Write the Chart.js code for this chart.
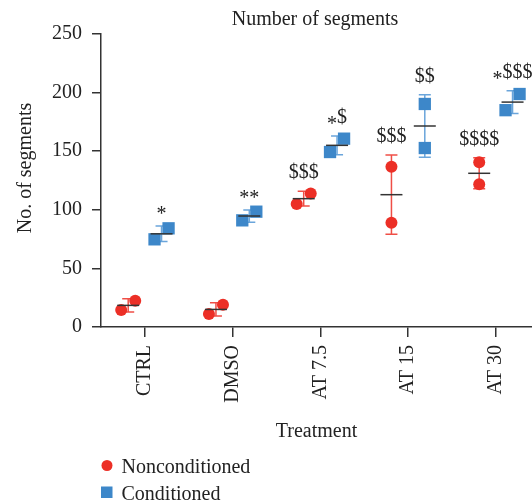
<!DOCTYPE html>
<html>
<head>
<meta charset="utf-8">
<script src="https://cdn.jsdelivr.net/npm/chart.js@4.4.0/dist/chart.umd.min.js"></script>
<style>
  html, body { margin: 0; padding: 0; background: #fff; }
  #wrap { width: 532px; height: 504px; }
</style>
</head>
<body>
<div id="wrap"><canvas id="myChart"></canvas></div>
<script>
const categories = ['CTRL', 'DMSO', 'AT 7.5', 'AT 15', 'AT 30']
const yTicks = [0, 50, 100, 150, 200, 250]

// two replicates per group
const nonA = [14.5, 11, 105, 89, 121.8]
const nonB = [22.4, 19, 114, 136.8, 140.5]
const condA = [74.8, 91, 149.3, 152.7, 185]
const condB = [84.2, 98.4, 160.7, 190.3, 198.8]

// significance marks
const nonStars = ['', '', '', '', '']
const nonDollars = ['', '', '$$$', '$$$', '$$$$']
const condStars = ['*', '**', '*', '', '*']
const condDollars = ['', '', '$', '$$', '$$$']

const RED = '#ec2f26'
const BLUE = '#3d87c9'
const INK = '#222'
const FONT = "'Liberation Serif', 'Times New Roman', serif"

// horizontal layout of the dots inside a group (in category units)
const groupShift = 0.19
const jitter = 0.08
const nonSpread = [1, 1, 1, 0, 0]
const condSpread = [1, 1, 1, 0, 1]

function points(a, b, shift, spread) {
  const out = []
  categories.forEach((c, i) => {
    out.push({x: i + shift - jitter * spread[i], y: Math.min(a[i], b[i])})
    out.push({x: i + shift + jitter * spread[i], y: Math.max(a[i], b[i])})
  })
  return out
}

function stats(a, b) {
  return {
    mean: a.map((v, i) => (v + b[i]) / 2),
    sd: a.map((v, i) => Math.abs(v - b[i]) / Math.SQRT2)
  }
}

const groups = [
  Object.assign({shift: -groupShift, bar: 'rgba(236,47,38,0.85)', stars: nonStars, dollars: nonDollars}, stats(nonA, nonB)),
  Object.assign({shift: groupShift, bar: 'rgba(90,155,215,0.9)', stars: condStars, dollars: condDollars}, stats(condA, condB))
]

const extras = {
  id: 'extras',
  beforeDatasetsDraw(chart) {
    const {ctx, scales: {x, y}} = chart
    ctx.save()
    ctx.lineWidth = 1.5
    groups.forEach(g => {
      ctx.strokeStyle = g.bar
      categories.forEach((c, i) => {
        const px = x.getPixelForValue(i + g.shift)
        const top = y.getPixelForValue(g.mean[i] + g.sd[i])
        const bot = y.getPixelForValue(g.mean[i] - g.sd[i])
        ctx.beginPath()
        ctx.moveTo(px, top); ctx.lineTo(px, bot)
        ctx.moveTo(px - 6, top); ctx.lineTo(px + 6, top)
        ctx.moveTo(px - 6, bot); ctx.lineTo(px + 6, bot)
        ctx.stroke()
      })
    })
    ctx.restore()
  },
  afterDatasetsDraw(chart) {
    const {ctx, scales: {x, y}} = chart
    ctx.save()
    ctx.strokeStyle = '#333'
    ctx.lineWidth = 1.5
    ctx.font = '20px ' + FONT
    ctx.fillStyle = INK
    ctx.textAlign = 'left'
    ctx.textBaseline = 'alphabetic'
    groups.forEach(g => {
      categories.forEach((c, i) => {
        const px = x.getPixelForValue(i + g.shift)
        const pm = y.getPixelForValue(g.mean[i])
        ctx.beginPath()
        ctx.moveTo(px - 11, pm); ctx.lineTo(px + 11, pm)
        ctx.stroke()

        const s = g.stars[i], d = g.dollars[i]
        if (!s && !d) return
        const top = y.getPixelForValue(g.mean[i] + g.sd[i])
        const ws = ctx.measureText(s).width
        const wd = ctx.measureText(d).width
        const start = px - (ws + wd) / 2
        if (s) ctx.fillText(s, start, top - 6)
        if (d) ctx.fillText(d, start + ws, top - 13)
      })
    })
    ctx.restore()
  },
  afterDraw(chart) {
    const {ctx} = chart
    ctx.save()
    ctx.font = '20px ' + FONT
    ctx.fillStyle = INK
    ctx.textBaseline = 'alphabetic'
    ctx.textAlign = 'center'
    ctx.fillText('Number of segments', 315, 25)

    ctx.save()
    ctx.translate(30.5, 168)
    ctx.rotate(-Math.PI / 2)
    ctx.fillText('No. of segments', 0, 0)
    ctx.restore()

    // legend
    ctx.textAlign = 'left'
    ctx.fillStyle = RED
    ctx.beginPath()
    ctx.arc(107, 465.5, 5.5, 0, Math.PI * 2)
    ctx.fill()
    ctx.fillStyle = BLUE
    ctx.fillRect(101, 486.5, 11.5, 11.5)
    ctx.fillStyle = INK
    ctx.fillText('Nonconditioned', 121.5, 473.3)
    ctx.fillText('Conditioned', 121.5, 500)
    ctx.restore()
  }
}

Chart.defaults.font.family = FONT
Chart.defaults.font.size = 20
Chart.defaults.color = INK

const myChart = new Chart(document.getElementById('myChart'), {
  type: 'scatter',
  data: {
    datasets: [{
      label: 'Nonconditioned',
      data: points(nonA, nonB, -groupShift, nonSpread),
      pointStyle: 'circle',
      pointRadius: 6,
      pointHoverRadius: 6,
      backgroundColor: RED,
      borderWidth: 0,
      clip: false
    }, {
      label: 'Conditioned',
      data: points(condA, condB, groupShift, condSpread),
      pointStyle: 'rect',
      pointRadius: 8.7,
      pointHoverRadius: 8.7,
      backgroundColor: BLUE,
      borderWidth: 0,
      clip: false
    }]
  },
  options: {
    responsive: true,
    maintainAspectRatio: false,
    animation: false,
    layout: {autoPadding: false, padding: {top: 34, left: 0, right: 0, bottom: 60}},
    plugins: {
      legend: {display: false},
      tooltip: {enabled: false}
    },
    scales: {
      x: {
        type: 'linear',
        min: -0.5,
        max: -0.5 + 431 / 87.75,
        afterBuildTicks: scale => { scale.ticks = categories.map((c, i) => ({value: i})) },
        afterFit: scale => {
          scale.height = 117
          scale.paddingLeft = 0
          scale.paddingRight = 0
        },
        ticks: {
          autoSkip: false,
          minRotation: 90,
          maxRotation: 90,
          padding: 8,
          color: INK,
          callback: v => categories[v]
        },
        grid: {drawOnChartArea: false, drawTicks: true, tickLength: 10, color: '#333', lineWidth: 1.5},
        border: {color: '#333', width: 1.5},
        title: {display: true, text: 'Treatment', color: INK, padding: {top: 0, bottom: 0}}
      },
      y: {
        min: 0,
        max: 250,
        afterBuildTicks: scale => { scale.ticks = yTicks.map(v => ({value: v})) },
        afterFit: scale => {
          scale.width = 101
          scale.paddingTop = 0
          scale.paddingBottom = 0
        },
        ticks: {padding: 10, color: INK},
        grid: {drawOnChartArea: false, drawTicks: true, tickLength: 9, color: '#333', lineWidth: 1.5},
        border: {color: '#333', width: 1.5}
      }
    }
  },
  plugins: [extras]
})
</script>
</body>
</html>
